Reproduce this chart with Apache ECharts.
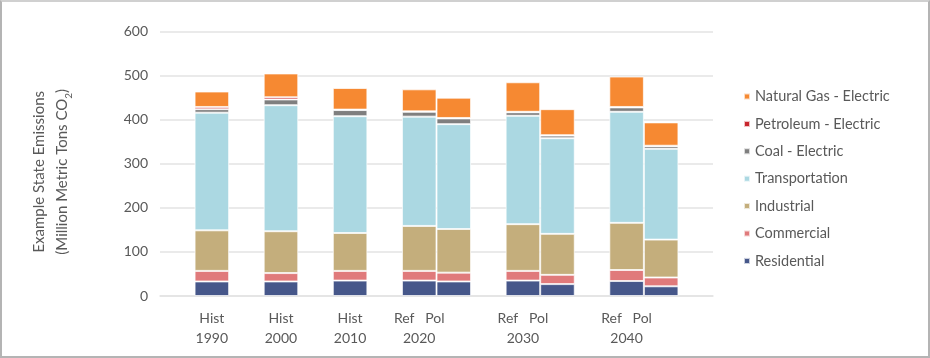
<!DOCTYPE html>
<html>
<head>
<meta charset="utf-8">
<script src="https://cdn.jsdelivr.net/npm/echarts@6/dist/echarts.min.js"></script>
<style>
  html, body { margin: 0; padding: 0; background: #fff; }
  #chart { position: absolute; left: 0; top: 0; width: 930px; height: 358px; }
  #frame { position: absolute; left: 0; top: 0; width: 930px; height: 358px; box-sizing: border-box;
           border: 2px solid #b4b4b4; border-top-color: #d0d0d0; pointer-events: none; }
</style>
</head>
<body>
<div id="chart"></div>
<div id="frame"></div>
<script>
// ---- Data ----
const categories = ['Hist 1990', 'Hist 2000', 'Hist 2010', 'Ref 2020', 'Pol 2020', 'Ref 2030', 'Pol 2030', 'Ref 2040', 'Pol 2040'];
const residential    = [33, 33, 35, 35, 33, 35, 27, 34, 22];
const commercial     = [24, 19, 22, 22, 20, 22, 21, 25, 20];
const industrial     = [92, 95, 86, 102, 99, 106, 93, 107, 86];
const transportation = [267, 286, 265, 248, 238, 246, 217, 252, 206];
const coalElectric   = [8, 13, 14, 11, 13, 8, 6, 10, 6];
const petroleumElectric = [5, 5, 1, 1, 1, 1, 1, 1, 1];
const naturalGasElectric = [35, 54, 49, 50, 46, 67, 59, 69, 53];
const labelTop  = ['Hist', 'Hist', 'Hist', 'Ref   Pol', 'Ref   Pol', 'Ref   Pol'];
const labelYear = ['1990', '2000', '2010', '2020', '2030', '2040'];
const yTicks = [0, 100, 200, 300, 400, 500, 600];

// ---- Layout: slots on the category axis (null = spacer) ----
const slotMap = [null, 0, null, 1, null, 2, null, 3, 4, null, 5, 6, null, 7, 8, null];
const labelSlots = [1, 3, 5, 7, 10, 13];

const slotNames = slotMap.map((c, i) => c === null ? ('gap' + i) : categories[c]);
function toSlots(arr) { return slotMap.map(c => c === null ? '-' : arr[c]); }

const seriesDefs = [
  { name: 'Residential', data: residential, color: '#46578a' },
  { name: 'Commercial', data: commercial, color: '#e07a7b' },
  { name: 'Industrial', data: industrial, color: '#c4ae7c' },
  { name: 'Transportation', data: transportation, color: '#abd8e2' },
  { name: 'Coal - Electric', data: coalElectric, color: '#7f7f7f' },
  { name: 'Petroleum - Electric', data: petroleumElectric, color: '#c8252c' },
  { name: 'Natural Gas - Electric', data: naturalGasElectric, color: '#f68932' }
];

const FONT = 'Lato';
const TXT = '#595959';

const chart = echarts.init(document.getElementById('chart'), null, { renderer: 'canvas' });
chart.setOption({
  animation: false,
  textStyle: { fontFamily: FONT, color: TXT },
  grid: { left: 160, right: 217, top: 31.6, bottom: 62 },
  legend: {
    orient: 'vertical',
    left: 738,
    top: 84,
    itemWidth: 6,
    itemHeight: 6,
    itemGap: 12.4,
    icon: 'rect',
    data: seriesDefs.map(s => s.name).slice().reverse(),
    textStyle: { fontFamily: FONT, fontSize: 14.5, color: TXT, lineHeight: 14 }
  },
  xAxis: {
    type: 'category',
    data: slotNames,
    boundaryGap: true,
    axisLine: { show: true, lineStyle: { color: '#e3e3e3', width: 1.5 } },
    axisTick: { show: false },
    splitLine: { show: false },
    axisLabel: {
      interval: 0,
      margin: 12,
      fontFamily: FONT,
      fontSize: 14,
      lineHeight: 20,
      color: TXT,
      formatter: function (v, idx) {
        const k = labelSlots.indexOf(idx);
        return k < 0 ? '' : labelTop[k] + '\n' + labelYear[k];
      }
    }
  },
  yAxis: {
    type: 'value',
    min: yTicks[0],
    max: yTicks[yTicks.length - 1],
    interval: 100,
    axisLine: { show: false },
    axisTick: { show: false },
    splitLine: { lineStyle: { color: '#e3e3e3', width: 1.5 } },
    axisLabel: { fontFamily: FONT, fontSize: 14, color: TXT, margin: 12 },
    name: 'Example State Emissions\n(Million Metric Tons CO{sub|2})',
    nameLocation: 'middle',
    nameRotate: 90,
    nameGap: 86,
    nameTextStyle: {
      fontFamily: FONT,
      fontSize: 15,
      color: TXT,
      lineHeight: 23,
      padding: [0, 16, 0, 0],
      rich: {
        sub: { fontFamily: FONT, fontSize: 10, color: TXT, verticalAlign: 'bottom', padding: [6, 0, 0, 0], lineHeight: 23 }
      }
    }
  },
  series: seriesDefs.map(s => ({
    name: s.name,
    type: 'bar',
    stack: 'total',
    barCategoryGap: '0%',
    data: toSlots(s.data),
    itemStyle: { color: s.color, borderColor: 'rgba(255,255,255,0.7)', borderWidth: 1 }
  }))
});
</script>
</body>
</html>
